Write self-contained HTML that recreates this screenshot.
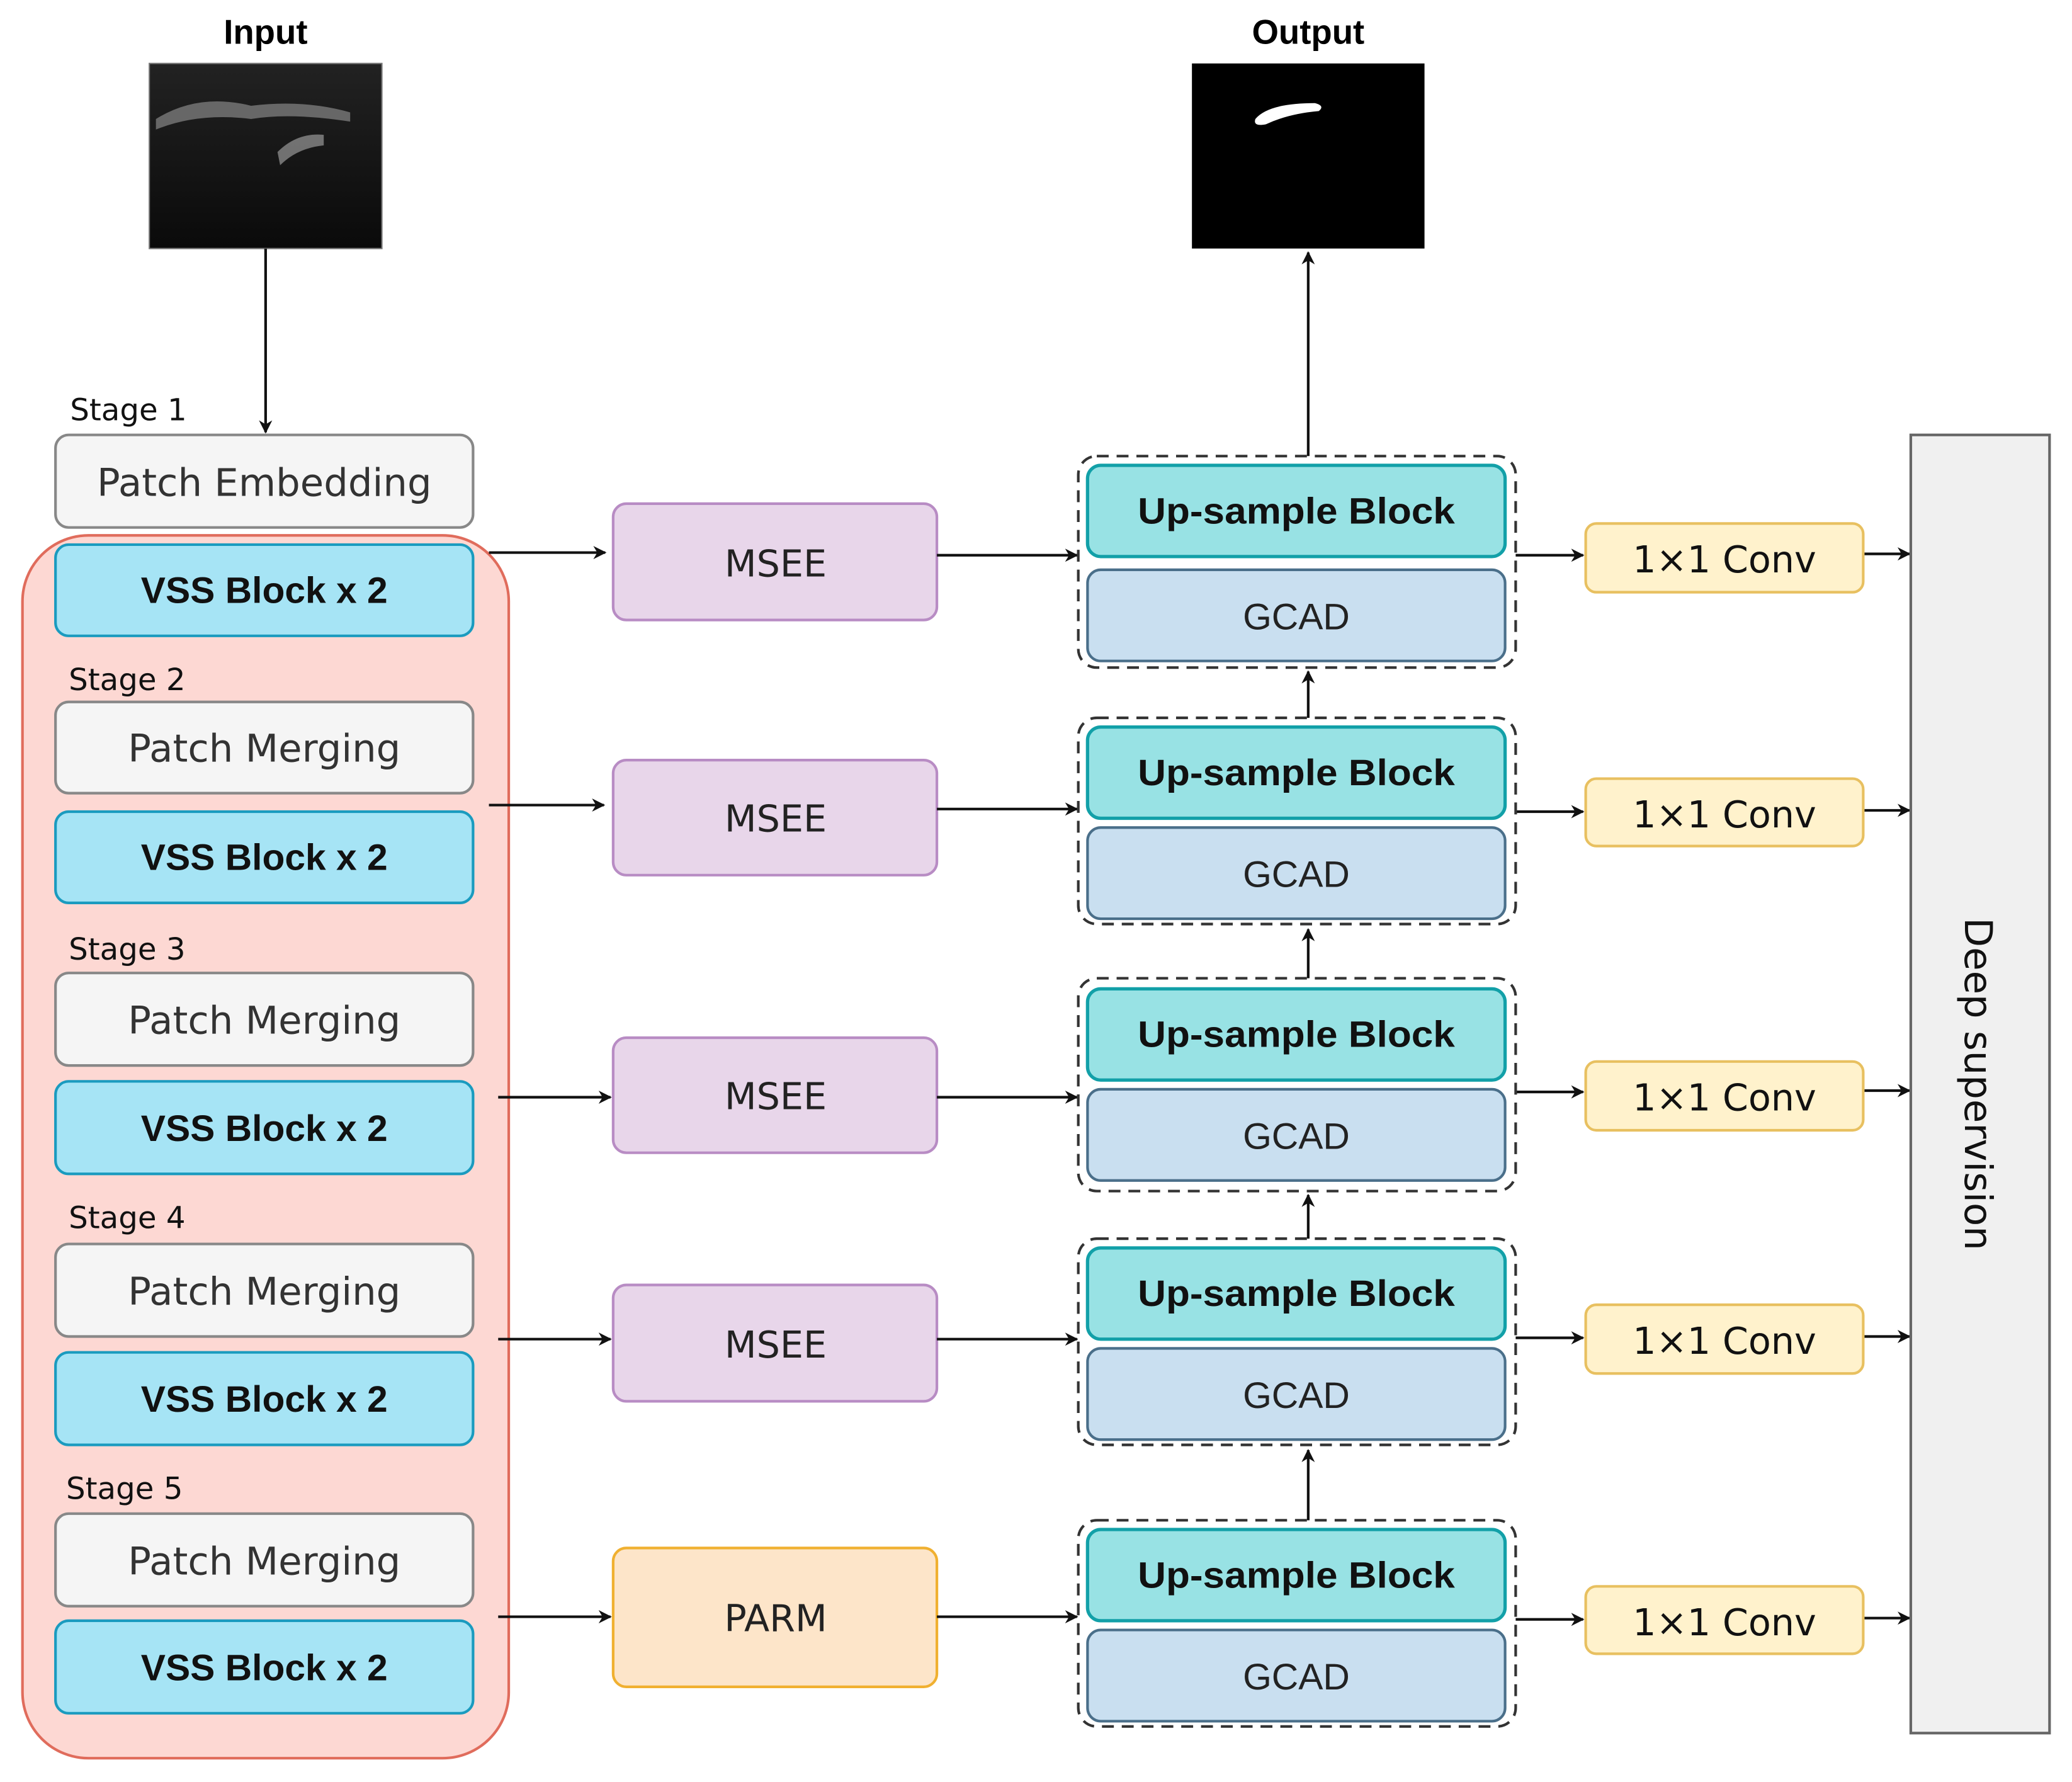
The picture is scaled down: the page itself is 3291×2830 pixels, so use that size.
<!DOCTYPE html>
<html><head><meta charset="utf-8"><style>html,body{margin:0;padding:0;background:#fff}svg{display:block}</style></head>
<body>
<svg width="3291" height="2830" viewBox="0 0 1568 1348" preserveAspectRatio="none" xmlns="http://www.w3.org/2000/svg" font-family="Liberation Sans, sans-serif">
<defs>
<marker id="a" markerWidth="10" markerHeight="10" refX="9" refY="5" orient="auto" markerUnits="userSpaceOnUse"><path d="M0,0 L10,5 L0,10 L3,5 z" fill="#111"/></marker>
<linearGradient id="us" x1="0" y1="0" x2="0" y2="1"><stop offset="0" stop-color="#222"/><stop offset="1" stop-color="#0a0a0a"/></linearGradient>
</defs>
<rect width="1568" height="1348" fill="#fff"/>
<text x="201" y="33" font-size="26" font-weight="bold" text-anchor="middle">Input</text>
<text x="990" y="33" font-size="26" font-weight="bold" text-anchor="middle">Output</text>
<rect x="113" y="48" width="176" height="140" fill="url(#us)" stroke="#777"/>
<path d="M118,90 Q150,70 190,80 Q230,75 265,85 L265,92 Q220,85 190,90 Q150,85 118,98z" fill="#888" opacity="0.7"/>
<path d="M210,115 Q225,100 245,102 L245,110 Q225,112 212,125z" fill="#999" opacity="0.7"/>
<rect x="902" y="48" width="176" height="140" fill="#000"/>
<path d="M950,90 Q960,78 995,78 Q1003,80 998,84 Q975,86 958,94 Q948,96 950,90z" fill="#fff"/>
<g stroke="#111" stroke-width="2" fill="none" marker-end="url(#a)">
<line x1="201" y1="188" x2="201" y2="327"/>
<line x1="201" y1="481" x2="201" y2="528"/>
<line x1="201" y1="683" x2="201" y2="733"/>
<line x1="201" y1="888" x2="201" y2="938"/>
<line x1="201" y1="1093" x2="201" y2="1142"/>
<line x1="990" y1="345" x2="990" y2="191"/>
<line x1="990" y1="543" x2="990" y2="508"/>
<line x1="990" y1="740" x2="990" y2="703"/>
<line x1="990" y1="937" x2="990" y2="904"/>
<line x1="990" y1="1150" x2="990" y2="1097"/>
</g>
<rect x="17" y="405" width="368" height="925" rx="50" fill="#fdd8d3" stroke="#e06c5c" stroke-width="2"/>
<g font-family="DejaVu Sans, sans-serif" font-size="23" fill="#111">
<text x="53" y="318">Stage 1</text><text x="52" y="522">Stage 2</text><text x="52" y="726">Stage 3</text><text x="52" y="929">Stage 4</text><text x="50" y="1134">Stage 5</text>
</g>
<rect x="42" y="329" width="316" height="70" rx="10" fill="#f5f5f5" stroke="#888" stroke-width="2"/>
<text x="200" y="375" font-family="DejaVu Sans, sans-serif" font-size="29" fill="#333" text-anchor="middle">Patch Embedding</text>
<g fill="#f5f5f5" stroke="#888" stroke-width="2">
<rect x="42" y="531" width="316" height="69" rx="10"/><rect x="42" y="736" width="316" height="70" rx="10"/><rect x="42" y="941" width="316" height="70" rx="10"/><rect x="42" y="1145" width="316" height="70" rx="10"/>
</g>
<g font-family="DejaVu Sans, sans-serif" font-size="29" fill="#333" text-anchor="middle">
<text x="200" y="576">Patch Merging</text><text x="200" y="782">Patch Merging</text><text x="200" y="987">Patch Merging</text><text x="200" y="1191">Patch Merging</text>
</g>
<g fill="#a6e4f5" stroke="#1a9bbf" stroke-width="2">
<rect x="42" y="412" width="316" height="69" rx="10"/><rect x="42" y="614" width="316" height="69" rx="10"/><rect x="42" y="818" width="316" height="70" rx="10"/><rect x="42" y="1023" width="316" height="70" rx="10"/><rect x="42" y="1226" width="316" height="70" rx="10"/>
</g>
<g font-size="28" font-weight="bold" fill="#111" text-anchor="middle">
<text x="200" y="456">VSS Block x 2</text><text x="200" y="658">VSS Block x 2</text><text x="200" y="863">VSS Block x 2</text><text x="200" y="1068">VSS Block x 2</text><text x="200" y="1271">VSS Block x 2</text>
</g>
<g fill="#e8d6ea" stroke="#b88cc4" stroke-width="2">
<rect x="464" y="381" width="245" height="88" rx="10"/><rect x="464" y="575" width="245" height="87" rx="10"/><rect x="464" y="785" width="245" height="87" rx="10"/><rect x="464" y="972" width="245" height="88" rx="10"/>
</g>
<rect x="464" y="1171" width="245" height="105" rx="10" fill="#fde5c9" stroke="#f0b030" stroke-width="2"/>
<g font-family="DejaVu Sans, sans-serif" font-size="28" fill="#222" text-anchor="middle">
<text x="587" y="436">MSEE</text><text x="587" y="629">MSEE</text><text x="587" y="839">MSEE</text><text x="587" y="1027">MSEE</text><text x="587" y="1234">PARM</text>
</g>
<g stroke="#111" stroke-width="2" marker-end="url(#a)">
<line x1="370" y1="418" x2="458" y2="418"/><line x1="370" y1="609" x2="457" y2="609"/><line x1="377" y1="830" x2="462" y2="830"/><line x1="377" y1="1013" x2="462" y2="1013"/><line x1="377" y1="1223" x2="462" y2="1223"/>
<line x1="709" y1="420" x2="815" y2="420"/><line x1="709" y1="612" x2="815" y2="612"/><line x1="709" y1="830" x2="815" y2="830"/><line x1="709" y1="1013" x2="815" y2="1013"/><line x1="709" y1="1223" x2="815" y2="1223"/>
<line x1="1147" y1="420" x2="1198" y2="420"/><line x1="1147" y1="614" x2="1198" y2="614"/><line x1="1147" y1="826" x2="1198" y2="826"/><line x1="1147" y1="1012" x2="1198" y2="1012"/><line x1="1147" y1="1225" x2="1198" y2="1225"/>
<line x1="1410" y1="419" x2="1445" y2="419"/><line x1="1410" y1="613" x2="1445" y2="613"/><line x1="1410" y1="825" x2="1445" y2="825"/><line x1="1410" y1="1011" x2="1445" y2="1011"/><line x1="1410" y1="1224" x2="1445" y2="1224"/>
</g>
<g fill="none" stroke="#333" stroke-width="2" stroke-dasharray="9,6">
<rect x="816" y="345" width="331" height="160" rx="14"/><rect x="816" y="543" width="331" height="156" rx="14"/><rect x="816" y="740" width="331" height="161" rx="14"/><rect x="816" y="937" width="331" height="156" rx="14"/><rect x="816" y="1150" width="331" height="156" rx="14"/>
</g>
<g fill="#98e2e4" stroke="#12a0a8" stroke-width="2.5">
<rect x="823" y="352" width="316" height="69" rx="10"/><rect x="823" y="550" width="316" height="69" rx="10"/><rect x="823" y="748" width="316" height="69" rx="10"/><rect x="823" y="944" width="316" height="69" rx="10"/><rect x="823" y="1157" width="316" height="69" rx="10"/>
</g>
<g fill="#c9dff0" stroke="#4a6f8a" stroke-width="2">
<rect x="823" y="431" width="316" height="69" rx="10"/><rect x="823" y="626" width="316" height="69" rx="10"/><rect x="823" y="824" width="316" height="69" rx="10"/><rect x="823" y="1020" width="316" height="69" rx="10"/><rect x="823" y="1233" width="316" height="69" rx="10"/>
</g>
<g font-size="28" font-weight="bold" fill="#111" text-anchor="middle">
<text x="981" y="396" textLength="240" lengthAdjust="spacingAndGlyphs">Up-sample Block</text><text x="981" y="594" textLength="240" lengthAdjust="spacingAndGlyphs">Up-sample Block</text><text x="981" y="792" textLength="240" lengthAdjust="spacingAndGlyphs">Up-sample Block</text><text x="981" y="988" textLength="240" lengthAdjust="spacingAndGlyphs">Up-sample Block</text><text x="981" y="1201" textLength="240" lengthAdjust="spacingAndGlyphs">Up-sample Block</text>
</g>
<g font-size="28" fill="#222" text-anchor="middle">
<text x="981" y="476">GCAD</text><text x="981" y="671">GCAD</text><text x="981" y="869">GCAD</text><text x="981" y="1065">GCAD</text><text x="981" y="1278">GCAD</text>
</g>
<g fill="#fff2cc" stroke="#e8c060" stroke-width="2">
<rect x="1200" y="396" width="210" height="52" rx="8"/><rect x="1200" y="589" width="210" height="51" rx="8"/><rect x="1200" y="803" width="210" height="52" rx="8"/><rect x="1200" y="987" width="210" height="52" rx="8"/><rect x="1200" y="1200" width="210" height="51" rx="8"/>
</g>
<g font-family="DejaVu Sans, sans-serif" font-size="28" fill="#111" text-anchor="middle">
<text x="1305" y="433">1×1 Conv</text><text x="1305" y="626">1×1 Conv</text><text x="1305" y="840">1×1 Conv</text><text x="1305" y="1024">1×1 Conv</text><text x="1305" y="1237">1×1 Conv</text>
</g>
<rect x="1446" y="329" width="105" height="982" fill="#f0f0f0" stroke="#666" stroke-width="2"/>
<text transform="translate(1487,820) rotate(90)" font-family="DejaVu Sans, sans-serif" font-size="29" fill="#111" text-anchor="middle">Deep  supervision</text>
</svg>
</body></html>
